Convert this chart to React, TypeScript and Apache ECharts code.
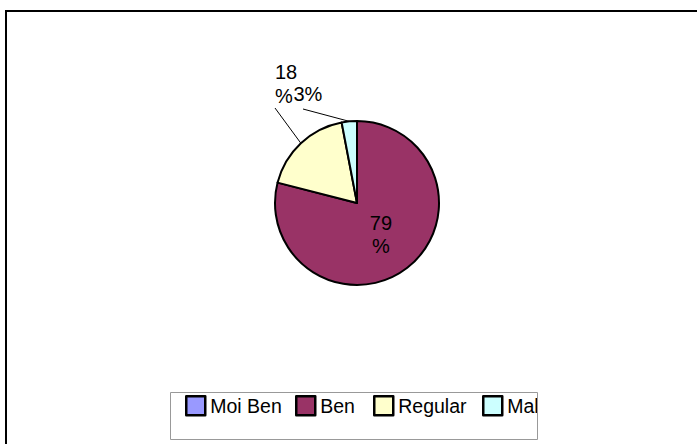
import React, { useEffect, useRef } from "react";
import * as echarts from "echarts";

const categories = ["Moi Ben", "Ben", "Regular", "Mal"];
const values = [0, 79, 18, 3];
const colors = ["#9999FF", "#993366", "#FFFFCC", "#CCFFFF"];
const legendLefts = [185, 295, 373, 482];
const FONT = "'Liberation Sans', Arial, sans-serif";

export default function App() {
  const ref = useRef<HTMLDivElement>(null);
  useEffect(() => {
    if (!ref.current) return;
    const chart = echarts.init(ref.current, null, { renderer: "svg" });
    const data = categories.map((name, i) => {
      const item: any = { name, value: values[i], itemStyle: { color: colors[i] } };
      if (i === 0) {
        item.label = { show: false };
        item.labelLine = { show: false };
      } else if (i === 1) {
        item.label = { position: "inside", formatter: "{c}\n%", lineHeight: 23 };
        item.labelLine = { show: false };
      } else if (i === 2) {
        item.label = { formatter: "{c}\n%", lineHeight: 24 };
      } else {
        item.label = { formatter: "{c}%" };
      }
      return item;
    });
    const legends = categories.map((name, i) => ({
      show: true,
      left: legendLefts[i],
      top: 395,
      padding: 0,
      itemWidth: 19,
      itemHeight: 19,
      icon: "rect",
      itemStyle: { borderColor: "#000", borderWidth: 2.5 },
      textStyle: { fontFamily: FONT, fontSize: 19.5, color: "#000" },
      data: [name],
    }));
    chart.setOption({
      animation: false,
      backgroundColor: "#ffffff",
      graphic: [
        {
          type: "rect",
          shape: { x: 6, y: 11, width: 760, height: 500 },
          style: { fill: "none", stroke: "#000", lineWidth: 2 },
          z: 100,
        },
        {
          type: "rect",
          shape: { x: 170.5, y: 392.5, width: 367, height: 47 },
          style: { fill: "none", stroke: "#999", lineWidth: 1 },
          z: 100,
        },
      ],
      legend: legends,
      series: [
        {
          type: "pie",
          center: [357, 203],
          radius: 82,
          startAngle: 90,
          clockwise: true,
          avoidLabelOverlap: false,
          itemStyle: { borderColor: "#000", borderWidth: 2 },
          label: {
            show: true,
            color: "#000",
            fontFamily: FONT,
            fontSize: 20,
          },
          labelLine: {
            show: true,
            lineStyle: { color: "#000", width: 1 },
            length: 20,
            length2: 0,
          },
          labelLayout: (p: any) => {
            const pts = p.labelLinePoints;
            if (p.dataIndex === 1) {
              return { dx: -3, dy: -3 };
            }
            if (p.dataIndex === 2) {
              const a = pts ? pts[0] : [300, 142];
              return {
                x: 275,
                y: 60,
                align: "left",
                verticalAlign: "top",
                labelLinePoints: [a, [275, 108], [275, 108]],
              };
            }
            if (p.dataIndex === 3) {
              const a = pts ? pts[0] : [345, 121];
              return {
                x: 293.5,
                y: 84,
                align: "left",
                verticalAlign: "top",
                labelLinePoints: [a, [303, 109], [303, 109]],
              };
            }
            return {};
          },
          emphasis: { disabled: true },
          data,
        },
      ],
    });
    return () => chart.dispose();
  }, []);
  return (
    <div style={{ position: "fixed", left: 0, top: 0, width: 697, height: 444, background: "#fff" }}>
      <div ref={ref} style={{ width: 697, height: 444 }} />
    </div>
  );
}
